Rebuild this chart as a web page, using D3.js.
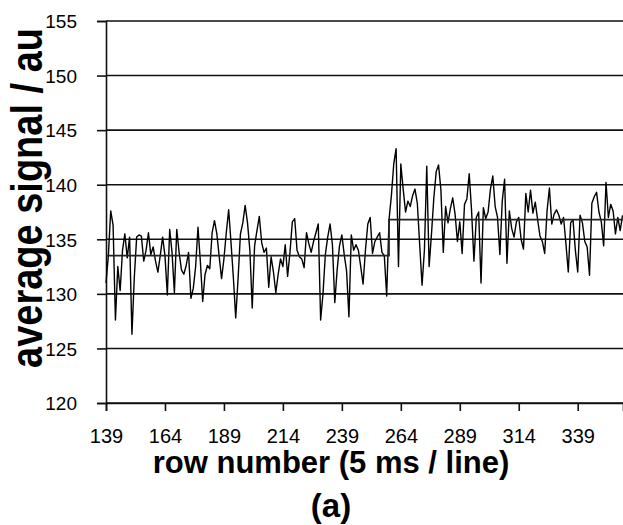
<!DOCTYPE html>
<html>
<head>
<meta charset="utf-8">
<script src="https://cdn.jsdelivr.net/npm/d3@7"></script>
<style>
  html, body { margin: 0; padding: 0; background: #fff; }
  svg { display: block; }
  text { font-family: "Liberation Sans", Arial, Helvetica, sans-serif; fill: #000; }
</style>
</head>
<body>
<svg id="chart" width="623" height="525"></svg>
<script>
// ---- data ----
const rowStart = 139;
const signal = [
  131.0, 133.5, 137.6, 136.3, 127.6, 132.5, 130.3, 134.0, 135.5, 133.3,
  135.2, 126.3, 131.5, 135.2, 135.4, 135.3, 133.0, 134.0, 135.6, 133.6,
  134.3, 133.0, 132.0, 133.5, 135.2, 133.5, 129.9, 135.9, 133.8, 130.1,
  135.9, 133.8, 132.2, 131.8, 132.6, 133.8, 129.6, 130.5, 132.5, 136.1,
  133.0, 129.3, 131.8, 132.6, 132.3, 135.6, 136.7, 135.5, 133.4, 131.4,
  133.2, 135.6, 137.7, 134.7, 131.5, 127.8, 131.4, 135.5, 136.5, 138.1,
  136.5, 134.0, 128.7, 134.4, 135.8, 137.1, 134.7, 133.8, 134.2, 130.6,
  133.4, 132.0, 130.1, 131.8, 133.2, 132.5, 134.5, 131.6, 133.8, 136.6,
  136.9, 134.0, 133.4, 133.2, 132.4, 135.6, 134.6, 133.8, 134.8, 135.6,
  136.4, 127.6, 130.0, 133.6, 135.2, 136.4, 134.5, 129.2, 132.2, 134.4,
  135.4, 133.6, 132.1, 127.9, 135.4, 134.0, 134.5, 134.0, 132.5, 130.9,
  134.0, 136.4, 137.0, 133.7, 134.8, 135.2, 135.6, 133.8, 133.5, 129.8,
  136.8, 139.0, 141.9, 143.3, 132.5, 141.9, 139.6, 137.5, 138.5, 138.0,
  139.0, 139.6, 138.3, 134.5, 130.8, 134.0, 141.7, 132.5, 135.5, 138.8,
  141.2, 141.8, 139.5, 133.8, 138.0, 136.5, 137.8, 138.8, 137.3, 134.8,
  136.6, 133.7, 138.2, 138.7, 141.0, 137.6, 133.0, 137.0, 137.5, 131.0,
  137.9, 136.9, 137.5, 139.6, 140.8, 138.0, 137.0, 133.6, 138.5, 140.5,
  132.8, 137.6, 136.0, 135.2, 136.6, 137.0, 135.0, 134.1, 139.2, 137.5,
  139.5, 137.4, 138.4, 136.8, 135.3, 134.8, 133.7, 137.6, 139.7, 136.4,
  137.3, 137.7, 137.2, 136.4, 137.0, 134.6, 132.0, 136.5, 136.8, 134.0,
  132.0, 137.2, 136.5, 134.8, 134.3, 131.7, 138.3, 138.9, 139.3, 137.5,
  136.6, 134.4, 140.2, 137.0, 138.2, 137.6, 135.5, 137.0, 135.8, 137.2
];
// step (mean level) line
const stepRows   = [139, 259, 358.2];
const stepLevels = [133.5, 136.8, 136.8];
// axes
const xTicks = [139, 164, 189, 214, 239, 264, 289, 314, 339];
const yTicks = [120, 125, 130, 135, 140, 145, 150, 155];
const xTitle = "row number (5 ms / line)";
const yTitle = "average signal / au";
const panelLabel = "(a)";

// ---- chart ----
const svg = d3.select("#chart");
const x = d3.scaleLinear().domain([139, 358.2]).range([106, 623]);
const y = d3.scaleLinear().domain([120, 155]).range([403, 21]);
const ink = "#111";

// gridlines
svg.append("g")
  .selectAll("line").data(yTicks).join("line")
  .attr("x1", x(139)).attr("x2", x(358.2))
  .attr("y1", d => y(d)).attr("y2", d => y(d))
  .attr("stroke", ink).attr("stroke-width", 1.6);

// y axis
const yAxis = svg.append("g").attr("transform", `translate(${x(139)},0)`)
  .call(d3.axisLeft(y).tickValues(yTicks).tickSize(9).tickPadding(20).tickFormat(d3.format("d")));
yAxis.attr("font-size", null).attr("font-family", null);
yAxis.select(".domain").attr("stroke", ink).attr("stroke-width", 1.6);
yAxis.selectAll(".tick line").attr("stroke", ink).attr("stroke-width", 1.6);
yAxis.selectAll(".tick text")
  .attr("x", -29).attr("dy", "0.36em")
  .style("font-size", "19px")
  .style("font-family", "'Liberation Sans', Arial, sans-serif").style("fill", "#000");

// x axis
const xAxis = svg.append("g").attr("transform", `translate(0,${y(120)})`)
  .call(d3.axisBottom(x).tickValues(xTicks).tickSize(8).tickPadding(19).tickFormat(d3.format("d")));
xAxis.attr("font-size", null).attr("font-family", null);
xAxis.select(".domain").attr("stroke", ink).attr("stroke-width", 1.6);
xAxis.selectAll(".tick line").attr("stroke", ink).attr("stroke-width", 1.6);
xAxis.selectAll(".tick text")
  .attr("y", 26).attr("dy", "0.71em")
  .style("font-size", "20px")
  .style("font-family", "'Liberation Sans', Arial, sans-serif").style("fill", "#000");

// signal line
const pts = signal.map((v, i) => [rowStart + i, v]);
svg.append("path")
  .datum(pts)
  .attr("fill", "none").attr("stroke", "#000").attr("stroke-width", 1.4)
  .attr("stroke-linejoin", "round")
  .attr("d", d3.line().x(d => x(d[0])).y(d => y(d[1])));

// step line
const stepPts = stepRows.map((r, i) => [r, stepLevels[i]]);
svg.append("path")
  .datum(stepPts)
  .attr("fill", "none").attr("stroke", "#222").attr("stroke-width", 1.7)
  .attr("d", d3.line().curve(d3.curveStepAfter).x(d => x(d[0])).y(d => y(d[1])));

// titles
svg.append("text")
  .attr("transform", `translate(42,198) rotate(-90) scale(1,1.15)`)
  .attr("text-anchor", "middle")
  .style("font-size", "38px").style("font-weight", "bold")
  .text(yTitle);

svg.append("text")
  .attr("x", 331).attr("y", 473)
  .attr("text-anchor", "middle")
  .style("font-size", "31px").style("font-weight", "bold")
  .text(xTitle);

svg.append("text")
  .attr("x", 331).attr("y", 517)
  .attr("text-anchor", "middle")
  .style("font-size", "33px").style("font-weight", "bold")
  .text(panelLabel);
</script>
</body>
</html>
